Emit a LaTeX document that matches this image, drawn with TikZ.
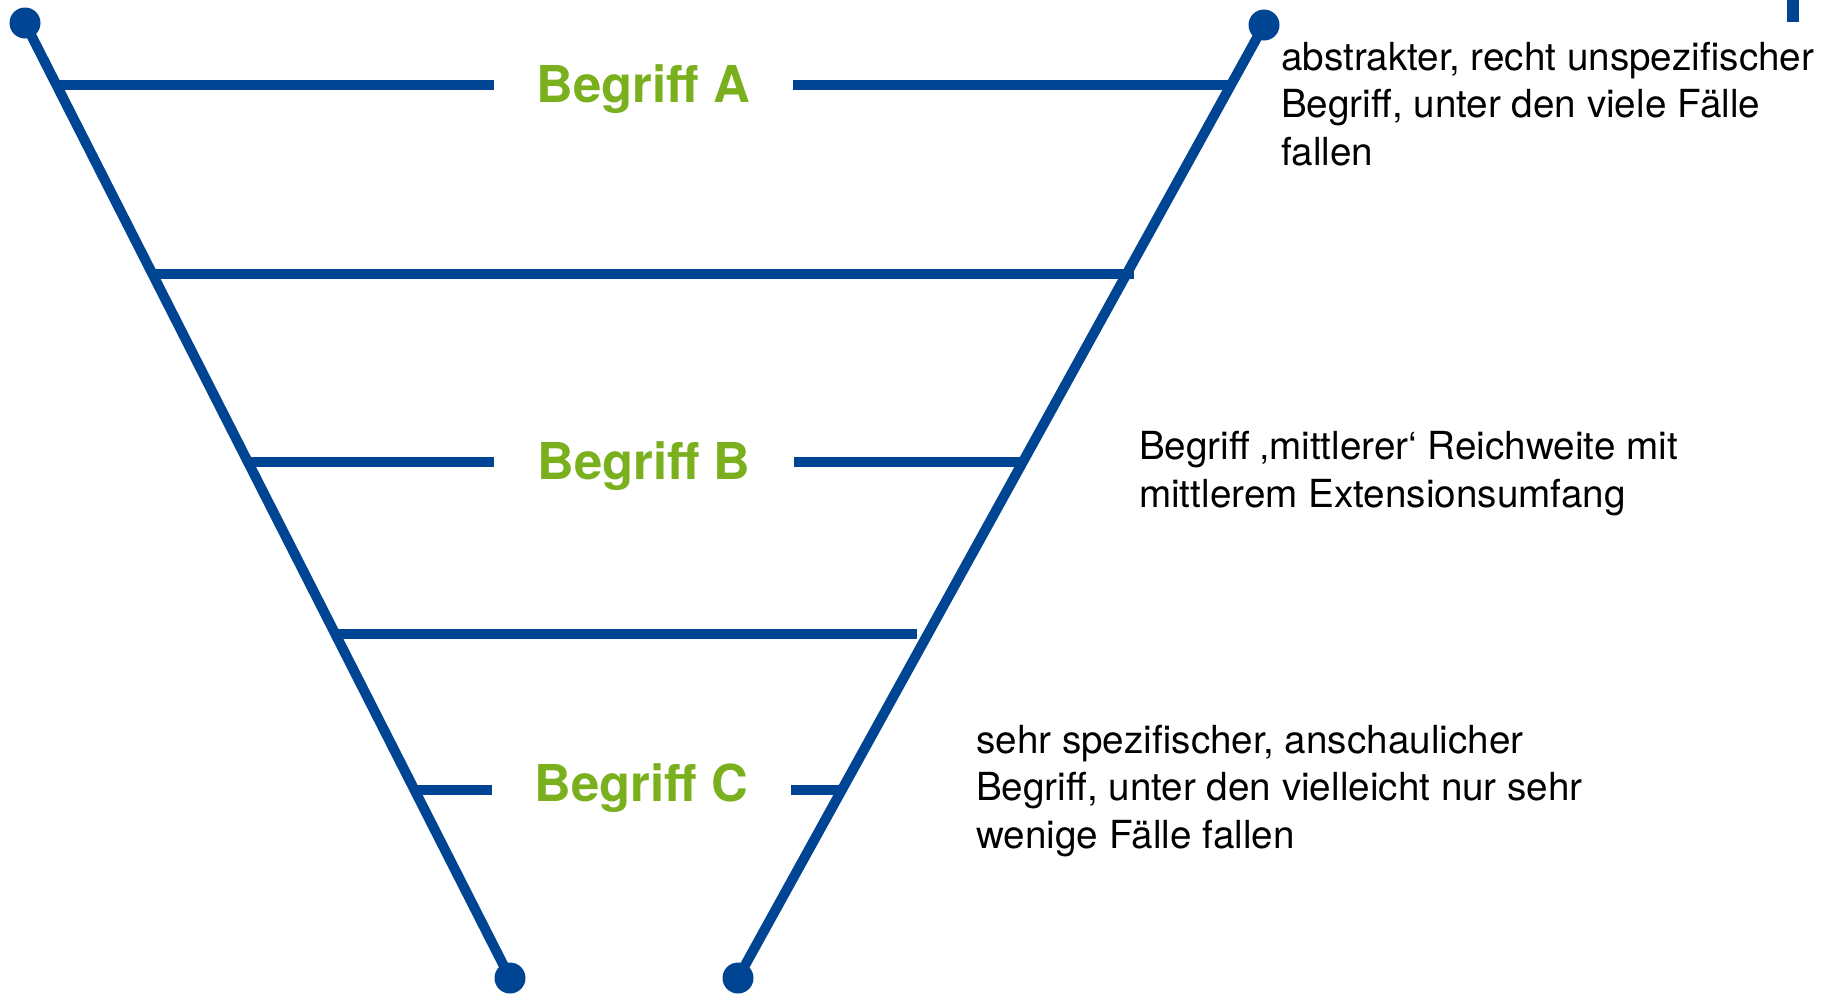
\documentclass[tikz,border=0pt]{standalone}
\usepackage{fontspec}
\setmainfont{TeX Gyre Heros}
\usetikzlibrary{positioning}
\definecolor{uniblau}{RGB}{0,68,148}
\definecolor{begriffgruen}{RGB}{122,176,30}

\begin{document}
\begin{tikzpicture}[x=1bp, y=-1bp,
    linie/.style={draw=uniblau, line width=10bp},
    punkt/.style={circle, fill=uniblau, inner sep=0pt, minimum size=31bp},
    begriff/.style={text=begriffgruen, font=\fontsize{51}{60}\selectfont\bfseries, minimum width=299bp, inner sep=0pt, anchor=base},
    erklaerung/.style={font=\fontsize{38.8}{47.3}\selectfont, align=left, inner sep=0pt, anchor=base west}]
    \useasboundingbox (0, 0) rectangle (1833, 994);
    % Trichter
    \node (ol) [punkt] at (25, 23) {};
    \node (or) [punkt] at (1264, 25) {};
    \node (ul) [punkt] at (510, 978) {};
    \node (ur) [punkt] at (738, 978) {};
    \draw [linie] (ol.center) -- (ul.center);
    \draw [linie] (or.center) -- (ur.center);
    % Begriffe
    \node (A) [begriff] at (643.5, 102) {Begriff A};
    \node (B) [begriff] at (644, 479) {Begriff B};
    \node (C) [begriff] at (641.5, 801.5) {Begriff C};
    % Querlinien
    \coordinate (a1) at (56.5, 85.3);
    \coordinate (a2) at (1231, 85.3);
    \coordinate (q1) at (152, 273.5);
    \coordinate (q2) at (1134, 273.5);
    \coordinate (b1) at (248, 462);
    \coordinate (b2) at (1023, 462);
    \coordinate (r1) at (335, 633.5);
    \coordinate (r2) at (917, 633.5);
    \coordinate (c1) at (415, 790);
    \coordinate (c2) at (842, 790);
    \draw [linie] (a1) -- (a1 -| A.west);
    \draw [linie] (a2 -| A.east) -- (a2);
    \draw [linie] (q1) -- (q2);
    \draw [linie] (b1) -- (b1 -| B.west);
    \draw [linie] (b2 -| B.east) -- (b2);
    \draw [linie] (r1) -- (r2);
    \draw [linie] (c1) -- (c1 -| C.west);
    \draw [linie] (c2 -| C.east) -- (c2);
    % Erklaerungen (base = letzte Zeile)
    \node (ea) [erklaerung] at (1281, 165) {abstrakter, recht unspezifischer\\Begriff, unter den viele Fälle\\fallen};
    \node (eb) [erklaerung] at (1139, 507) {Begriff ‚mittlerer‘ Reichweite mit\\mittlerem Extensionsumfang};
    \node (ec) [erklaerung] at (976, 848) {sehr spezifischer, anschaulicher\\Begriff, unter den vielleicht nur sehr\\wenige Fälle fallen};
    \fill [uniblau] (1787, 0) rectangle (1799, 22);
\end{tikzpicture}
\end{document}
